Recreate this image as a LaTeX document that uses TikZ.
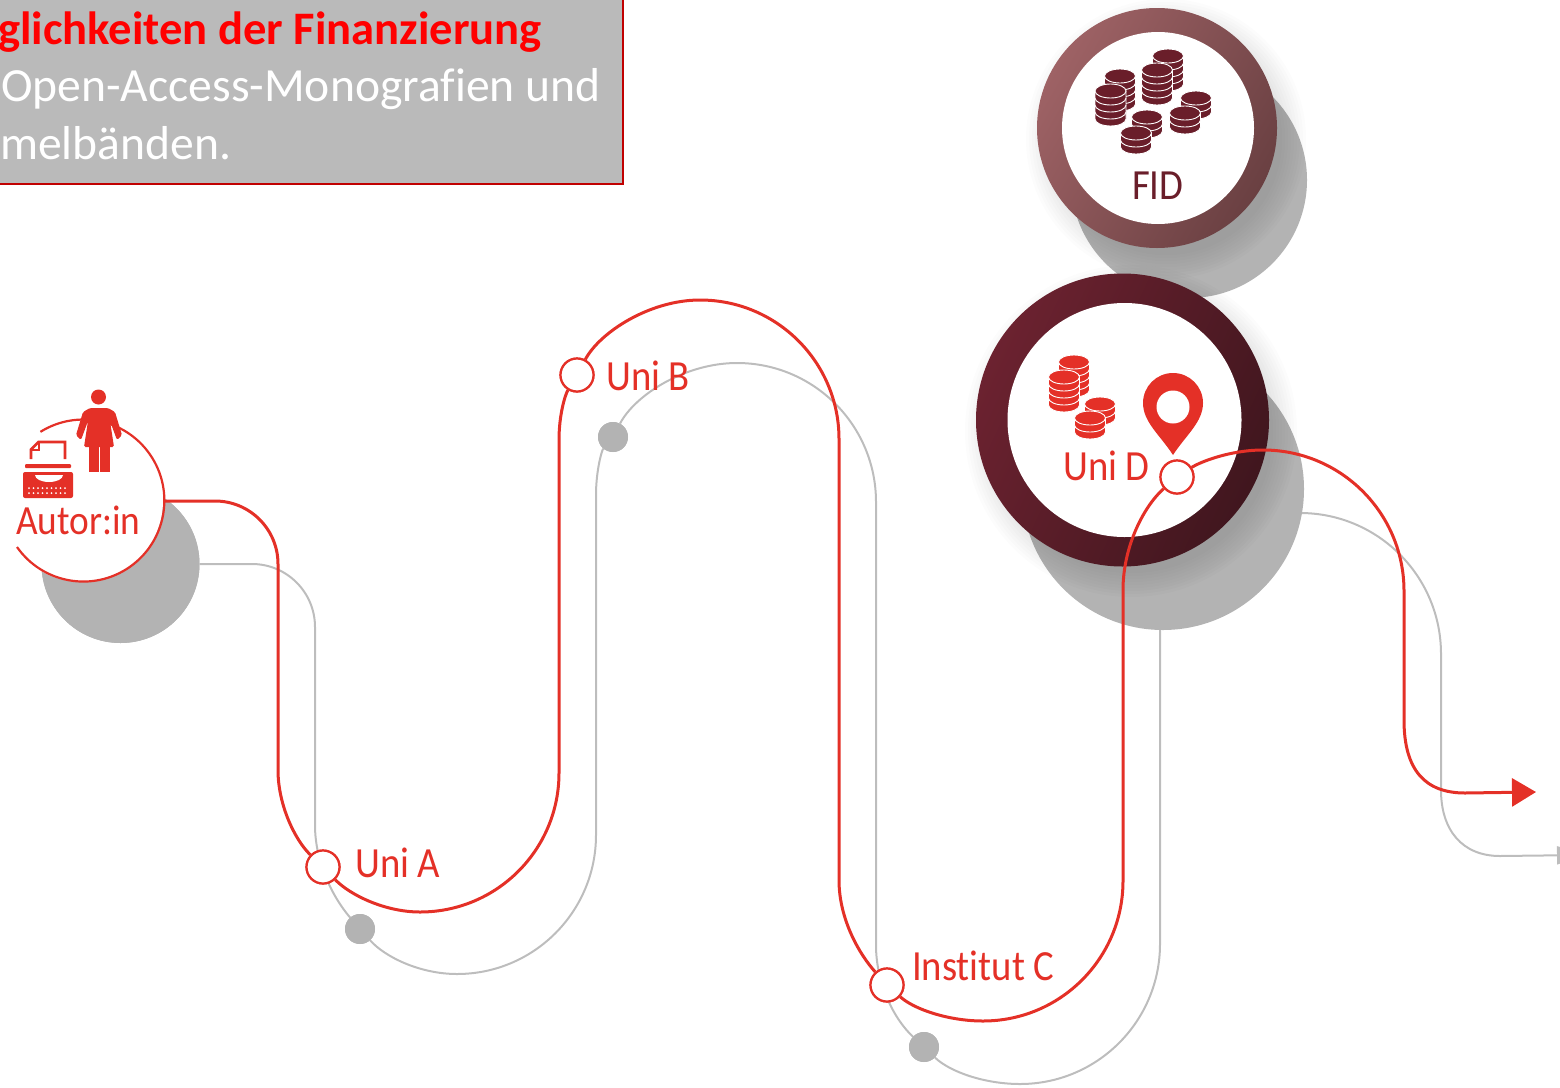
\documentclass[tikz,border=0pt]{standalone}
\usepackage{fontspec}
\setmainfont{Carlito}[Ligatures=NoCommon]
\newfontfamily\labelfont{Carlito}[FakeStretch=.9, Ligatures=NoCommon]
\usetikzlibrary{arrows.meta}
\definecolor{routered}{HTML}{E43027}
\definecolor{routegray}{HTML}{BDBDBD}
\definecolor{diskgray}{HTML}{B3B3B3}
\definecolor{wine}{HTML}{6A1E2A}
\definecolor{fidlight}{HTML}{9E6265}
\definecolor{fiddark}{HTML}{6A4042}
\definecolor{unidlight}{HTML}{6C2230}
\definecolor{uniddark}{HTML}{40161E}
\definecolor{boxgray}{HTML}{BABABA}
\definecolor{boxred}{HTML}{C00000}
\tikzset{
    redroute/.style={routered, line width=3},
    grayroute/.style={routegray, line width=2},
    stopring/.style={circle, draw=routered, fill=white, line width=2.2, minimum size=33, inner sep=0},
    graydot/.style={circle, fill=diskgray, minimum size=30, inner sep=0},
    disk/.style={circle, fill=diskgray, inner sep=0},
    whitedisk/.style={circle, fill=white, inner sep=0},
    stoplabel/.style={anchor=base west, inner sep=0, routered, font=\labelfont\fontsize{43}{46}\selectfont},
    boxline/.style={anchor=base west, inner sep=0, font=\fontsize{47.6}{52}\selectfont},
}
% one pile of coins: x, y of the top coin, number of coins, colour
\newcommand{\coinstack}[4]{
    \foreach \k in {#3,...,1}
    {
        \fill[#4, draw=white, line width=.9] (#1-15.5,#2+\k*7-7) -- (#1-15.5,#2+\k*7) arc[start angle=180, end angle=0, x radius=15.5, y radius=7] -- (#1+15.5,#2+\k*7-7) -- cycle;
    }
    \fill[#4, draw=white, line width=.9] (#1,#2) ellipse [x radius=15.5, y radius=7];
}
\begin{document}
\begin{tikzpicture}[x=1pt, y=-1pt, >=latex]
\useasboundingbox (0,0) rectangle (1560,1087);
\clip (0,0) rectangle (1560,1087);

    % gray dots and ends
    \node[graydot] (dota) at (360,929) {};
    \node[graydot] (dotb) at (613,437) {};
    \node[graydot] (dotc) at (924,1047) {};
    \node[disk, minimum size=158] (autorshadow) at (120.5,564) {};
    \coordinate (dotd) at (1214,540);
    \coordinate (grayend) at (1585,855);

    % gray way
    \draw[grayroute] (autorshadow.east) -- (252,564) arc[start angle=-90, end angle=0, radius=63] -- (315,825) .. controls (315,865) and (335,900) .. (dota);
    \draw[grayroute] (dota) .. controls (385,957) and (420,974) .. (457,974) arc[start angle=90, end angle=0, radius=139] -- (596,495) .. controls (596,470) and (602,450) .. (dotb);
    \draw[grayroute] (dotb) .. controls (635,395) and (685,363) .. (737,363) arc[start angle=-90, end angle=0, radius=139] -- (876,945) .. controls (876,985) and (895,1020) .. (dotc);
    \draw[grayroute] (dotc) .. controls (950,1072) and (985,1084) .. (1020,1084) arc[start angle=90, end angle=0, radius=140] -- (1160,600) -- (dotd);
    \draw[grayroute, -{Triangle[length=28,width=18]}] (dotd) -- (1300,513) arc[start angle=-90, end angle=0, radius=141] -- (1441,790) .. controls (1441,830) and (1462,856) .. (1500,856) -- (grayend);

    \node[graydot] at (360,929) {};
    \node[graydot] at (613,437) {};
    \node[graydot] at (924,1047) {};
    \node[disk, minimum size=158] at (120.5,564) {};
    \node[disk, minimum size=236] (fidshadow) at (1189,180) {};
    \node[disk, minimum size=282] (unidshadow) at (1163,489) {};

    % FID
    \foreach \r in {0,3,...,24}
    {
        \fill[black, opacity=.012] (1166,139) circle (116+\r);
    }
    \shade[shading=axis, left color=fidlight, right color=fiddark, shading angle=60] (1157,128) circle (120);
    \node[whitedisk, minimum size=192] (fidring) at (1158,128) {};
    \coinstack{1120}{76}{4}{wine}
    \coinstack{1168}{56}{4}{wine}
    \coinstack{1157}{70}{4}{wine}
    \coinstack{1110.5}{91}{4}{wine}
    \coinstack{1196}{98}{2}{wine}
    \coinstack{1185}{113}{2}{wine}
    \coinstack{1147}{117}{2}{wine}
    \coinstack{1136}{133}{2}{wine}
    \node[stoplabel, wine] (fidlabel) at (1132,199) {FID};

    % Uni D
    \foreach \r in {0,3,...,24}
    {
        \fill[black, opacity=.012] (1131,431) circle (142+\r);
    }
    \shade[shading=axis, left color=unidlight, right color=uniddark, shading angle=65] (1122.5,420) circle (146.5);
    \node[whitedisk, minimum size=234] (unidring) at (1124.5,420) {};
    \coinstack{1074}{362}{4}{routered}
    \coinstack{1064}{377}{4}{routered}
    \coinstack{1100}{404}{2}{routered}
    \coinstack{1090}{418}{2}{routered}
    \fill[routered] (1173,455) .. controls (1160,435) and (1143,422) .. (1143,403) arc[start angle=180, end angle=360, radius=30] .. controls (1203,422) and (1186,435) .. (1173,455) -- cycle;
    \fill[white] (1173,407) circle (16.5);
    \node[stoplabel] (unidlabel) at (1063,480) {Uni D};

    % Autor:in
    \node[whitedisk, minimum size=162] (autor) at (82,501) {};
    \draw[routered, line width=2.2] (17,547) arc[start angle=145, end angle=-122, radius=81];
    \fill[routered] (98.5,397) circle (7.5);
    \fill[routered, rounded corners=1.5] (90,408) -- (108,408) -- (115,412) -- (122,435) -- (117,440) -- (110,421) -- (114,447) -- (84,447) -- (88,421) -- (81,440) -- (76,435) -- (83,412) -- cycle;
    \fill[routered] (89,447) rectangle (98.5,472);
    \fill[routered] (100,447) rectangle (109.5,472);
    \draw[routered, line width=2.6] (31,459) -- (31,449.5) -- (38.5,442) -- (65,442) -- (65,459);
    \draw[routered, line width=2] (38.5,442) -- (38.5,450) -- (31,450);
    \fill[routered, rounded corners=1] (25,464) rectangle (71,468);
    \fill[routered, rounded corners=2] (23,472) rectangle (73,498);
    \fill[white] (35,475) arc[start angle=180, end angle=0, x radius=14, y radius=7] -- cycle;
    \foreach \x in {29,33.5,...,68}
    {
        \fill[white] (\x,488) circle (1);
        \fill[white] (\x,493) circle (1);
    }
    \node[stoplabel, font=\labelfont\fontsize{41.5}{46}\selectfont] (autorlabel) at (16,534) {Autor:in};

    % red way
    \node[stopring] (stopa) at (323,867) {};
    \node[stopring] (stopb) at (577,375) {};
    \node[stopring] (stopc) at (887,985) {};
    \node[stopring] (stopd) at (1177,477) {};
    \coordinate (redend) at (1536,792);
    \draw[redroute] (autor.east) -- (215,501) arc[start angle=-90, end angle=0, radius=63] -- (278,770) .. controls (278,805) and (295,840) .. (stopa);
    \draw[redroute] (stopa) .. controls (350,895) and (385,912) .. (420,912) arc[start angle=90, end angle=0, radius=139] -- (559,440) .. controls (559,415) and (565,395) .. (stopb);
    \draw[redroute] (stopb) .. controls (600,332) and (650,300) .. (700,300) arc[start angle=-90, end angle=0, radius=139] -- (839,880) .. controls (839,920) and (860,955) .. (stopc);
    \draw[redroute] (stopc) .. controls (915,1010) and (950,1021) .. (983,1021) arc[start angle=90, end angle=0, radius=140] -- (1123,590) .. controls (1123,545) and (1145,505) .. (stopd);
    \draw[redroute, -{Triangle[length=24,width=28]}] (stopd) .. controls (1200,462) and (1230,450) .. (1263,450) arc[start angle=-90, end angle=0, radius=141] -- (1404,720) .. controls (1404,770) and (1425,793) .. (1465,793) -- (redend);
    \node[stopring] at (323,867) {};
    \node[stopring] at (577,375) {};
    \node[stopring] at (887,985) {};
    \node[stopring] at (1177,477) {};

    \node[stoplabel] (labela) at (355,877) {Uni A};
    \node[stoplabel] (labelb) at (606,390) {Uni B};
    \node[stoplabel] (labelc) at (912,980) {Institut C};

    % text box
    \draw[fill=boxgray, draw=boxred, line width=2] (-10,-10) rectangle (623,184);
    \node[boxline, red, font=\fontsize{46.6}{52}\selectfont] (boxhead) at (-2,44) {\bfseries glichkeiten der Finanzierung};
    \node[boxline, white] (boxtwo) at (1,101) {Open-Access-Monografien und};
    \node[boxline, white] (boxthree) at (0,159) {melbänden.};
\end{tikzpicture}
\end{document}
